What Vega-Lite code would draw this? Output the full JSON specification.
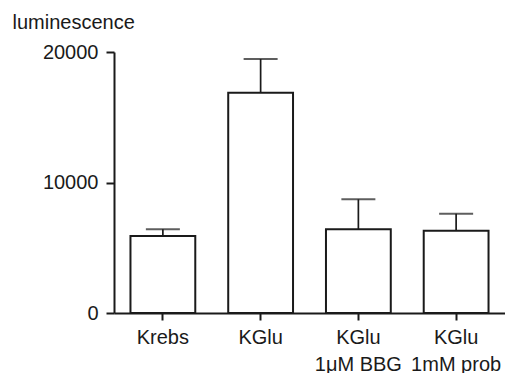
{
  "$schema": "https://vega.github.io/schema/vega-lite/v6.json",
  "autosize": {"type": "none"},
  "padding": {"left": 114, "top": 52, "right": 0, "bottom": 60},
  "width": 391,
  "height": 261,
  "background": "white",
  "config": {
    "view": {"stroke": null},
    "font": "Liberation Sans",
    "axis": {
      "grid": false,
      "domainColor": "#1a1a1a",
      "domainWidth": 2,
      "tickColor": "#1a1a1a",
      "tickWidth": 2,
      "labelColor": "#1a1a1a",
      "labelFont": "Liberation Sans",
      "labelFontSize": 20,
      "titleFont": "Liberation Sans",
      "titleFontSize": 20,
      "titleFontWeight": "normal",
      "titleColor": "#1a1a1a"
    }
  },
  "data": {
    "values": [
      {"group": "Krebs", "mean": 5900, "upper": 6410},
      {"group": "KGlu", "mean": 16880, "upper": 19460},
      {"group": "KGlu|1μM BBG", "mean": 6410, "upper": 8710},
      {"group": "KGlu|1mM prob", "mean": 6300, "upper": 7610}
    ]
  },
  "encoding": {
    "x": {
      "field": "group",
      "type": "nominal",
      "sort": ["Krebs", "KGlu", "KGlu|1μM BBG", "KGlu|1mM prob"],
      "scale": {"paddingInner": 0.337, "paddingOuter": 0.1685},
      "axis": {
        "title": null,
        "labelAngle": 0,
        "labelExpr": "split(datum.label, '|')",
        "labelLineHeight": 27,
        "tickSize": 7,
        "labelPadding": 7,
        "labelBaseline": "top"
      }
    }
  },
  "layer": [
    {
      "mark": {"type": "rule", "stroke": "#1a1a1a", "strokeWidth": 1.7},
      "encoding": {
        "y": {"field": "mean", "type": "quantitative"},
        "y2": {"field": "upper"}
      }
    },
    {
      "mark": {"type": "tick", "color": "#1a1a1a", "size": 34, "thickness": 2},
      "encoding": {
        "y": {"field": "upper", "type": "quantitative"}
      }
    },
    {
      "mark": {"type": "bar", "fill": "white", "stroke": "#1a1a1a", "strokeWidth": 2},
      "encoding": {
        "y": {
          "field": "mean",
          "type": "quantitative",
          "scale": {"domain": [0, 20000], "nice": false},
          "axis": {
            "title": "luminescence",
            "titleAngle": 0,
            "titleAlign": "left",
            "titleBaseline": "alphabetic",
            "titleX": -102,
            "titleY": -24,
            "values": [0, 10000, 20000],
            "format": "d",
            "tickSize": 8,
            "labelPadding": 8
          }
        }
      }
    }
  ]
}
